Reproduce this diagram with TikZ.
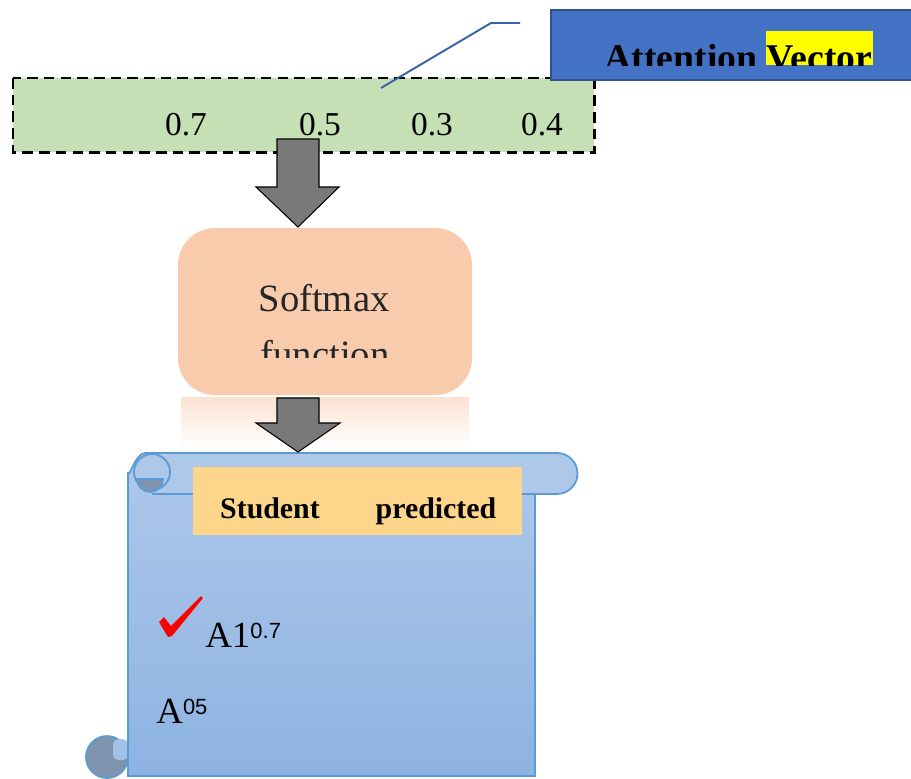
\documentclass[tikz,border=0pt]{standalone}
\usepackage{fontspec}
\setmainfont{Liberation Serif}
\newfontfamily\supfont{Liberation Sans}

\definecolor{vecgreen}{HTML}{C5E0B4}
\definecolor{callblue}{HTML}{4472C4}
\definecolor{callrim}{HTML}{2F528F}
\definecolor{tagblue}{HTML}{3A62AA}
\definecolor{peach}{HTML}{F8CBAD}
\definecolor{scrolltop}{HTML}{AEC8EA}
\definecolor{scrollbot}{HTML}{8DB3E2}
\definecolor{scrollrim}{HTML}{5B9BD5}
\definecolor{curldark}{HTML}{7F93AE}
\definecolor{labelorange}{HTML}{FDD68C}
\definecolor{hiyellow}{HTML}{FFFF00}
\definecolor{tickred}{HTML}{FF0000}

\tikzset{
  vecbox/.style={draw=black, fill=vecgreen, line width=1.7pt, dash pattern=on 6pt off 3.5pt},
  num/.style={anchor=base, inner sep=0pt, font=\fontsize{19}{22}\selectfont},
  tagline/.style={draw=tagblue, line width=1.1pt},
  callbox/.style={draw=callrim, fill=callblue, line width=0.6pt},
  calltext/.style={anchor=base west, inner sep=0pt, font=\fontsize{21.5}{24}\selectfont\bfseries},
  blockarrow/.style={draw=black, line width=0.6pt, fill=gray!95!black},
  softbox/.style={fill=peach, rounded corners=21pt},
  softtext/.style={anchor=base, inner sep=0pt, text=black!85, font=\fontsize{22}{26}\selectfont},
  scrollrimline/.style={draw=scrollrim, line width=1pt},
  scrollbody/.style={scrollrimline, top color=scrolltop, bottom color=scrollbot},
  scrollband/.style={scrollrimline, fill=scrolltop},
  headtext/.style={anchor=base, inner sep=0pt, font=\fontsize{17}{20}\selectfont\bfseries},
  entry/.style={anchor=base west, inner sep=0pt, font=\fontsize{21}{24}\selectfont},
}
\newcommand{\supnum}[1]{\raisebox{4.8pt}{\supfont\fontsize{12.5}{14}\selectfont #1}}

\begin{document}
\begin{tikzpicture}[x=0.02cm,y=-0.02cm]
\useasboundingbox (0,0) rectangle (911,778);

%%%%%%%%%%%%%%%%%%%%%%%%%%%%%%%%%%%%%%%%
% attention vector
\draw[vecbox] (13,78) rectangle (594,152);

\node[num] (v1) at (186,135) {0.7};
\node[num] (v2) at (320,135) {0.5};
\node[num] (v3) at (432,135) {0.3};
\node[num] (v4) at (542,135) {0.4};

% callout
\coordinate (tagfoot) at (381,88);
\coordinate (tagbend) at (491,23);
\coordinate (tagend) at (520,23);
\draw[tagline] (tagfoot) -- (tagbend) -- (tagend);

\draw[callbox] (551,10) rectangle (915,80);
\fill[hiyellow] (766,31) rectangle (873,65);
\begin{scope}
\clip (551,10) rectangle (911,65);
\node[calltext] (attn) at (604,70) {Attention Vector};
\end{scope}

%%%%%%%%%%%%%%%%%%%%%%%%%%%%%%%%%%%%%%%%
% softmax
\coordinate (arrA) at (298,139);
\coordinate (tipA) at (298,227);
\draw[blockarrow] (arrA) ++(-21,0) -- ++(42,0) -- ++(0,48) -- ++(20,0) -- (tipA) -- ++(-42,-40) -- ++(21,0) -- cycle;

\fill[softbox] (178,228) rectangle (472,395);
\shade[top color=peach!55, bottom color=white] (181,397) rectangle (469,448);

\node[softtext] (soft) at (324,311) {Softmax};
\begin{scope}
\clip (178,228) rectangle (472,357);
\node[softtext] (func) at (325,367) {function};
\end{scope}

%%%%%%%%%%%%%%%%%%%%%%%%%%%%%%%%%%%%%%%%
% scroll
\draw[scrollrimline, fill=curldark] (107,757) circle (21);
\fill[scrolltop!70!scrollbot, rounded corners=3pt] (113,739) rectangle (128,760);
\draw[scrollbody] (128,776) -- (128,472) to[out=-90,in=180] (145,453) -- (535,453) -- (535,776) -- cycle;
\draw[scrollband] (152,453) -- (557,453) arc[start angle=-90, end angle=90, radius=20.5] -- (152,494);
\draw[scrollband] (152,472) circle (18);
\draw[scrollrimline, fill=curldark] (137,479) arc[start angle=180, end angle=0, radius=13] -- cycle;

\coordinate (arrB) at (298,398);
\coordinate (tipB) at (298,452);
\draw[blockarrow] (arrB) ++(-21,0) -- ++(42,0) -- ++(0,25) -- ++(21,0) -- (tipB) -- ++(-42,-29) -- ++(21,0) -- cycle;

\fill[labelorange] (193,467) rectangle (522,535);
\node[headtext] (stu) at (270,518) {Student};
\node[headtext] (pred) at (436,518) {predicted};

\fill[tickred] (159,622) -- (164,617) -- (171,626) -- (201,596) -- (203,598) -- (172,636) -- (168,637) -- cycle;
\node[entry] (ans1) at (205,647) {A1\supnum{0.7}};
\node[entry] (ans2) at (156,723) {A\supnum{05}};

\end{tikzpicture}
\end{document}
